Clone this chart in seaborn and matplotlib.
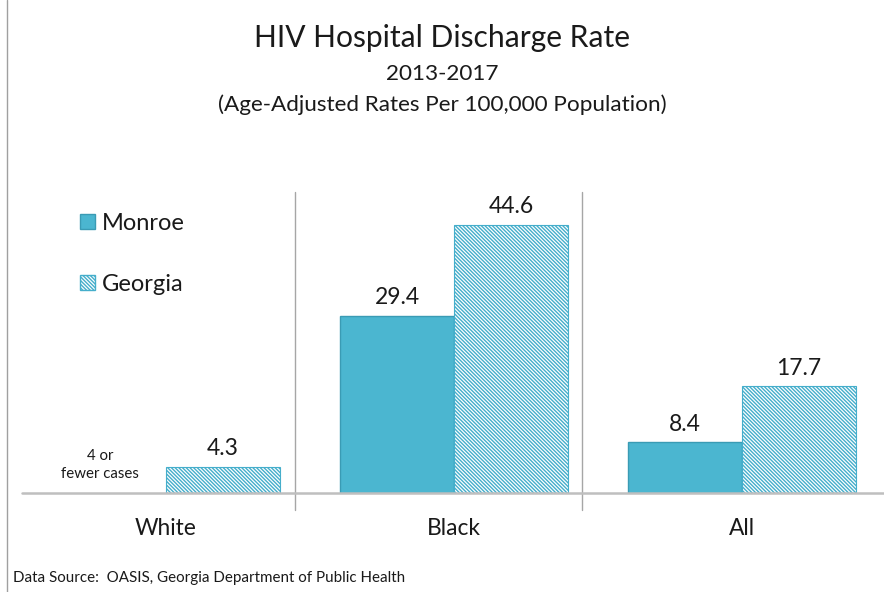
import pandas as pd
import numpy as np
import matplotlib
matplotlib.use('Agg')
import matplotlib.pyplot as plt
import seaborn as sns
from matplotlib.patches import Patch
from matplotlib.lines import Line2D

# Chart values
categories = ['White', 'Black', 'All']
monroe = [np.nan, 29.4, 8.4]   # White: 4 or fewer cases
georgia = [4.3, 44.6, 17.7]
series = ['Monroe', 'Georgia']

sns.set_theme(style='white')
plt.rcParams['font.family'] = ['Lato', 'DejaVu Sans']
plt.rcParams['hatch.linewidth'] = 1.0

monroe_color = '#4BB6D0'
georgia_color = '#45AECB'
text_color = '#1a1a1a'
hatch = '\\' * 9

# Long-form table for seaborn
df = pd.DataFrame({
    'Race': categories * 2,
    'Area': ['Monroe'] * 3 + ['Georgia'] * 3,
    'Rate': monroe + georgia,
})

fig = plt.figure(figsize=(8.84, 5.92), dpi=100)
ax = fig.add_axes([22 / 884, 99 / 592, 864 / 884, 301 / 592])

sns.barplot(data=df, x='Race', y='Rate', hue='Area', hue_order=series,
            order=categories, palette=[monroe_color, georgia_color],
            width=0.79, ax=ax, legend=False, errorbar=None, saturation=1)

# Style bars: Monroe solid, Georgia hatched, then label them
for cont, name in zip(ax.containers, series):
    for bar in cont:
        h = bar.get_height()
        if np.isnan(h):
            continue
        if name == 'Monroe':
            bar.set_facecolor(monroe_color)
            bar.set_edgecolor('#3A9BB4')
            bar.set_linewidth(1.0)
        else:
            bar.set_facecolor('white')
            bar.set_edgecolor(georgia_color)
            bar.set_hatch(hatch)
            bar.set_linewidth(0.8)
        ax.annotate(f'{h:.1f}', (bar.get_x() + bar.get_width() / 2, h),
                    xytext=(0, 8.5), textcoords='offset points',
                    ha='center', va='baseline', fontsize=16.5, color=text_color)

ax.text(-0.23, 4.6, '4 or\nfewer cases', ha='center', va='center',
        fontsize=10.8, color=text_color, linespacing=1.35)

ax.set_xlim(-0.5, 2.5)
ax.set_ylim(0, 50)
ax.set_yticks([])
ax.set_xlabel('')
ax.set_ylabel('')
ax.tick_params(axis='x', length=0, pad=18, labelsize=16.4, colors=text_color)
for s in ax.spines.values():
    s.set_visible(False)

# Category dividers (drawn slightly left of the category boundary) and baseline
for xd in [0.448, 1.444]:
    ax.plot([xd, xd], [-2.8, 50], color='#A6A6A6', lw=1.0, clip_on=False)
ax.axhline(0, color='#BFBFBF', lw=1.8, clip_on=False)

# Legend
handles = [Patch(facecolor=monroe_color, edgecolor='#3A9BB4', label='Monroe'),
           Patch(facecolor='white', edgecolor=georgia_color, hatch=hatch, label='Georgia')]
fig.legend(handles=handles, loc='upper left', bbox_to_anchor=(80 / 884, 1 - 213 / 592),
           frameon=False, fontsize=17, handlelength=0.62, handleheight=0.62,
           handletextpad=0.3, labelspacing=1.68, borderpad=0, borderaxespad=0,
           labelcolor=text_color)

# Titles
fig.text(0.5, 1 - 38 / 592, 'HIV Hospital Discharge Rate', ha='center', va='center',
         fontsize=21.6, color=text_color)
fig.text(0.5, 1 - 74 / 592, '2013-2017', ha='center', va='center',
         fontsize=16.2, color=text_color)
fig.text(0.5, 1 - 105 / 592, '(Age-Adjusted Rates Per 100,000 Population)', ha='center',
         va='center', fontsize=16.2, color=text_color)

fig.text(13 / 884, 1 - 578 / 592, 'Data Source:  OASIS, Georgia Department of Public Health',
         ha='left', va='center', fontsize=10.9, color=text_color)

# Left frame line
fig.add_artist(Line2D([7 / 884, 7 / 884], [0, 1], color='#A0A0A0', lw=1.0))

fig.savefig('out.png', dpi=100)
